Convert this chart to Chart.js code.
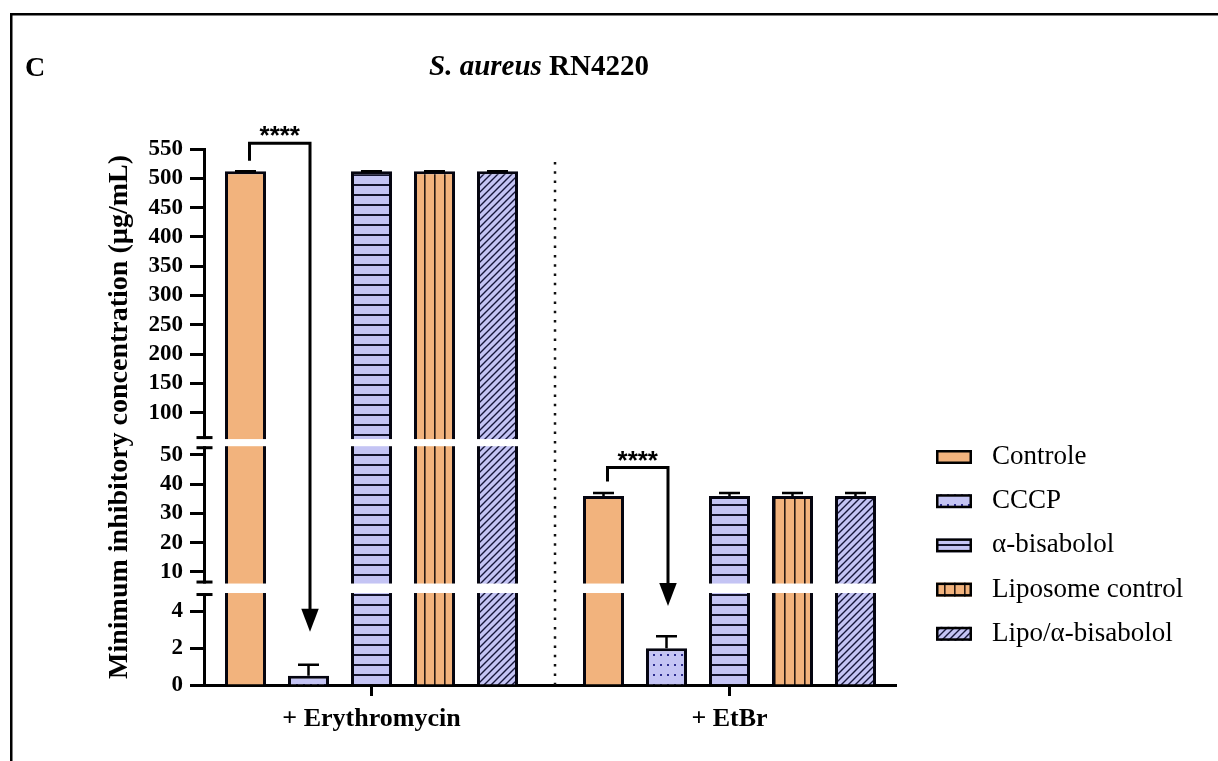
<!DOCTYPE html>
<html>
<head>
<meta charset="utf-8">
<script src="https://cdn.jsdelivr.net/npm/chart.js@4/dist/chart.umd.min.js"></script>
<style>
  html, body { margin: 0; padding: 0; background: #fff; }
  #wrap { width: 1218px; height: 761px; }
</style>
</head>
<body>
<div id="wrap"><canvas id="c" width="1218" height="761"></canvas></div>
<script>
// ---- data ----
const categories = ['+ Erythromycin', '+ EtBr'];
const seriesNames = ['Controle', 'CCCP', 'α-bisabolol', 'Liposome control', 'Lipo/α-bisabolol'];
const controle = [512, 36];
const cccp = [0.5, 2];
const bisabolol = [512, 36];
const liposomeControl = [512, 36];
const lipoBisabolol = [512, 36];
const controleSD = [0, 1];
const cccpSD = [0.6, 0.65];
const bisabololSD = [0, 1];
const liposomeControlSD = [0, 1];
const lipoBisabololSD = [0, 1];
const yTickValues = [0, 2, 4, 10, 20, 30, 40, 50, 100, 150, 200, 250, 300, 350, 400, 450, 500, 550];
const significance = ['****', '****'];

// ---- broken y axis: value -> fraction of plot height, gaps between segments ----
const axisAnchors = [[0, 0], [5, 0.1716], [6, 0.1893], [53, 0.4455], [55, 0.4588], [550, 1]];
const axisGaps = [[5, 6], [53, 55]];

const SERIF = "'Liberation Serif', 'Times New Roman', serif";
const PEACH = '#F2B37D';
const LAVENDER = '#C4C4F4';

class BrokenLinearScale extends Chart.LinearScale {
  buildTicks() {
    this.start = this.min;
    this.end = this.max;
    return yTickValues.map(v => ({ value: v }));
  }
  _toDecimal(v) {
    const a = axisAnchors;
    let i = 1;
    while (i < a.length - 1 && v > a[i][0]) i++;
    const [v0, f0] = a[i - 1], [v1, f1] = a[i];
    return f0 + (v - v0) * (f1 - f0) / (v1 - v0);
  }
  getPixelForValue(value) {
    if (value === null || value === undefined || isNaN(value)) return NaN;
    return this.getPixelForDecimal(this._toDecimal(+value));
  }
  getValueForPixel(pixel) {
    const d = this.getDecimalForPixel(pixel);
    const a = axisAnchors;
    let i = 1;
    while (i < a.length - 1 && d > a[i][1]) i++;
    const [v0, f0] = a[i - 1], [v1, f1] = a[i];
    return v0 + (d - f0) * (v1 - v0) / (f1 - f0);
  }
}
BrokenLinearScale.id = 'brokenLinear';
BrokenLinearScale.defaults = {};
Chart.register(BrokenLinearScale);

// ---- fill patterns ----
const mainCtx = document.getElementById('c').getContext('2d');
function tile(w, h, paint) {
  const t = document.createElement('canvas');
  t.width = w; t.height = h;
  const g = t.getContext('2d');
  paint(g, w, h);
  return mainCtx.createPattern(t, 'repeat');
}
const dotsFill = tile(7, 10, (g, w, h) => {
  g.fillStyle = LAVENDER; g.fillRect(0, 0, w, h);
  g.fillStyle = '#2d2d8f'; g.fillRect(2, 4, 2, 2);
});
const hLinesFill = tile(10, 10, (g, w, h) => {
  g.fillStyle = LAVENDER; g.fillRect(0, 0, w, h);
  g.fillStyle = '#14142e'; g.fillRect(0, 4, w, 2);
});
const vLinesFill = tile(10, 10, (g, w, h) => {
  g.fillStyle = PEACH; g.fillRect(0, 0, w, h);
  g.fillStyle = '#2a1a12'; g.fillRect(4, 0, 1.6, h);
});
const diagFill = tile(7, 7, (g, w, h) => {
  g.fillStyle = LAVENDER; g.fillRect(0, 0, w, h);
  g.strokeStyle = '#16163a'; g.lineWidth = 1.4;
  g.beginPath();
  g.moveTo(0, h); g.lineTo(w, 0);
  g.moveTo(-1, 1); g.lineTo(1, -1);
  g.moveTo(w - 1, h + 1); g.lineTo(w + 1, h - 1);
  g.stroke();
});

const seriesValues = [controle, cccp, bisabolol, liposomeControl, lipoBisabolol];
const seriesSD = [controleSD, cccpSD, bisabololSD, liposomeControlSD, lipoBisabololSD];
const seriesFills = [PEACH, dotsFill, hLinesFill, vLinesFill, diagFill];

// significance brackets (heights in axis units)
const sigMarks = [
  { group: 0, from: 0, to: 1, leg: 530, bracket: 560, tip: 2.9, text: significance[0] },
  { group: 1, from: 0, to: 1, leg: 40.9, bracket: 45.7, tip: 4.3, text: significance[1] }
];
const separator = { x: 0.5126, top: 528 };

const decorations = {
  id: 'decorations',
  beforeDraw(chart) {
    const ctx = chart.ctx;
    ctx.save();
    ctx.fillStyle = '#fff';
    ctx.fillRect(0, 0, chart.width, chart.height);
    ctx.fillStyle = '#000';
    ctx.fillRect(10, 13, chart.width - 10, 2.5);
    ctx.fillRect(10, 13, 2.5, chart.height - 13);
    ctx.restore();
  },
  afterDatasetsDraw(chart) {
    const ctx = chart.ctx;
    const xs = chart.scales.x, ys = chart.scales.y;
    const area = chart.chartArea;
    ctx.save();

    // error bars (mean + SD)
    ctx.strokeStyle = '#000';
    ctx.lineWidth = 2.5;
    chart.data.datasets.forEach((ds, s) => {
      const meta = chart.getDatasetMeta(s);
      meta.data.forEach((el, i) => {
        const yTop = ys.getPixelForValue(seriesValues[s][i] + seriesSD[s][i]);
        ctx.beginPath();
        ctx.moveTo(el.x, el.y);
        ctx.lineTo(el.x, yTop);
        ctx.moveTo(el.x - 10.5, yTop);
        ctx.lineTo(el.x + 10.5, yTop);
        ctx.stroke();
      });
    });

    // axis breaks
    const axisX = area.left + 0.5;
    axisGaps.forEach(([a, b]) => {
      const yUp = ys.getPixelForValue(b), yLo = ys.getPixelForValue(a);
      ctx.fillStyle = '#fff';
      ctx.fillRect(area.left - 3, yUp, area.right - area.left + 3, yLo - yUp);
      ctx.fillStyle = '#000';
      ctx.fillRect(axisX - 8, yUp - 3, 16, 3);
      ctx.fillRect(axisX - 8, yLo, 16, 3);
    });

    // group separator
    const sx = xs.getPixelForValue(separator.x);
    ctx.strokeStyle = '#111';
    ctx.lineWidth = 2.5;
    ctx.setLineDash([2.5, 6.8]);
    ctx.beginPath();
    ctx.moveTo(sx, ys.getPixelForValue(separator.top));
    ctx.lineTo(sx, area.bottom);
    ctx.stroke();
    ctx.setLineDash([]);

    // significance brackets with arrows
    sigMarks.forEach(m => {
      const xL = chart.getDatasetMeta(m.from).data[m.group].x + 4;
      const xR = chart.getDatasetMeta(m.to).data[m.group].x + 1.5;
      const yB = ys.getPixelForValue(m.bracket);
      const yLeg = ys.getPixelForValue(m.leg);
      const yTip = ys.getPixelForValue(m.tip);
      const headH = 23, headW = 17.5;
      ctx.strokeStyle = '#000';
      ctx.lineWidth = 3;
      ctx.lineJoin = 'miter';
      ctx.beginPath();
      ctx.moveTo(xL, yLeg);
      ctx.lineTo(xL, yB);
      ctx.lineTo(xR, yB);
      ctx.lineTo(xR, yTip - headH + 2);
      ctx.stroke();
      ctx.fillStyle = '#000';
      ctx.beginPath();
      ctx.moveTo(xR - headW / 2, yTip - headH);
      ctx.lineTo(xR + headW / 2, yTip - headH);
      ctx.lineTo(xR, yTip);
      ctx.closePath();
      ctx.fill();
      ctx.font = "bold 26px 'Liberation Sans', Arial, sans-serif";
      ctx.textAlign = 'center';
      ctx.textBaseline = 'alphabetic';
      ctx.fillText(m.text, (xL + xR) / 2, yB + 1);
    });
    ctx.restore();
  },
  afterDraw(chart) {
    const ctx = chart.ctx;
    ctx.save();
    ctx.fillStyle = '#000';
    ctx.textBaseline = 'alphabetic';

    // panel letter
    ctx.font = `bold 28px ${SERIF}`;
    ctx.textAlign = 'left';
    ctx.fillText('C', 25, 76);

    // title: italic species + strain
    const italicFont = `italic bold 29px ${SERIF}`;
    const boldFont = `bold 29px ${SERIF}`;
    ctx.font = italicFont;
    const w1 = ctx.measureText('S. aureus').width;
    ctx.font = boldFont;
    const w2 = ctx.measureText(' RN4220').width;
    const x0 = 539 - (w1 + w2) / 2;
    ctx.font = italicFont;
    ctx.fillText('S. aureus', x0, 75);
    ctx.font = boldFont;
    ctx.fillText(' RN4220', x0 + w1, 75);

    // legend
    const lx = 936, ly = 457, step = 44.2;
    chart.data.datasets.forEach((ds, i) => {
      const cy = ly + i * step;
      ctx.fillStyle = ds.backgroundColor;
      ctx.fillRect(lx, cy - 7, 36, 14);
      ctx.strokeStyle = '#000';
      ctx.lineWidth = 2.5;
      ctx.strokeRect(lx + 1.25, cy - 5.75, 33.5, 11.5);
      ctx.fillStyle = '#000';
      ctx.font = `27px ${SERIF}`;
      ctx.textAlign = 'left';
      ctx.textBaseline = 'middle';
      ctx.fillText(ds.label, 992, cy);
    });
    ctx.restore();
  }
};

new Chart(document.getElementById('c'), {
  type: 'bar',
  data: {
    datasets: seriesNames.map((name, s) => ({
      label: name,
      data: seriesValues[s].map((v, i) => ({ x: i, y: v })),
      backgroundColor: seriesFills[s],
      borderColor: '#050510',
      borderWidth: 3,
      categoryPercentage: 0.8799,
      barPercentage: 0.651
    }))
  },
  options: {
    responsive: false,
    devicePixelRatio: 1,
    animation: false,
    events: [],
    layout: { padding: { left: 99, top: 149, right: 322, bottom: 0 } },
    plugins: { legend: { display: false }, title: { display: false }, tooltip: { enabled: false } },
    scales: {
      x: {
        type: 'linear',
        min: -0.4679,
        max: 1.4651,
        offset: false,
        afterBuildTicks: s => { s.ticks = categories.map((_, i) => ({ value: i })); },
        afterFit: s => { s.height = 76; },
        grid: { drawOnChartArea: false, drawTicks: true, tickLength: 11, tickWidth: 3, tickColor: '#000', offset: false },
        border: { display: true, width: 3, color: '#000' },
        ticks: {
          autoSkip: false,
          maxRotation: 0,
          padding: 8,
          color: '#000',
          font: { family: SERIF, size: 26, weight: 'bold' },
          callback: v => categories[v]
        }
      },
      y: {
        type: 'brokenLinear',
        min: 0,
        max: 550,
        afterFit: s => { s.width = 105; },
        grid: { drawOnChartArea: false, drawTicks: true, tickLength: 14, tickWidth: 3, tickColor: '#000' },
        border: { display: true, width: 3, color: '#000' },
        ticks: {
          autoSkip: false,
          padding: 7,
          color: '#000',
          font: { family: SERIF, size: 23, weight: 'bold' },
          callback: v => String(v)
        },
        title: {
          display: true,
          text: 'Minimum inhibitory concentration (µg/mL)',
          color: '#000',
          font: { family: SERIF, size: 28, weight: 'bold' },
          padding: { top: 4, bottom: 0 }
        }
      }
    }
  },
  plugins: [decorations]
});
</script>
</body>
</html>
